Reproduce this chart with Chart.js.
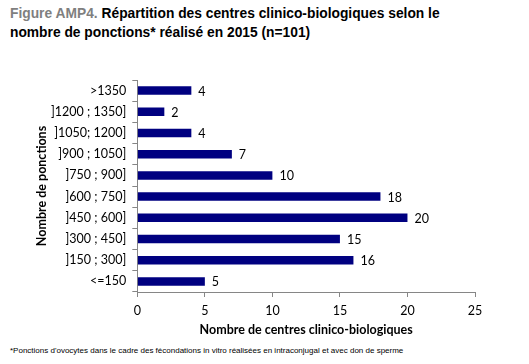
<!DOCTYPE html>
<html>
<head>
<meta charset="utf-8">
<script src="https://cdn.jsdelivr.net/npm/chart.js@4"></script>
<style>
  html, body { margin: 0; padding: 0; background: #fff; }
  #wrap { position: relative; width: 529px; height: 364px; overflow: hidden; }
  #title {
    position: absolute; left: 10px; top: 4px; width: 520px;
    font: bold 13.8px "Liberation Sans", Arial, sans-serif; line-height: 19px; color: #000;
  }
  #title .fig { color: #7f7f7f; }
  #note {
    position: absolute; left: 10px; top: 346px;
    font: 8px "Liberation Sans", Arial, sans-serif; color: #000;
  }
  #box { position: absolute; left: 0; top: 50px; width: 529px; height: 289px; }
</style>
</head>
<body>
<div id="wrap">
  <div id="title"><span class="fig">Figure AMP4.</span> Répartition des centres clinico-biologiques selon le<br>nombre de ponctions* réalisé en 2015 (n=101)</div>
  <div id="box"><canvas id="chart" width="529" height="289"></canvas></div>
  <div id="note">*Ponctions d'ovocytes dans le cadre des fécondations in vitro réalisées en intraconjugal et avec don de sperme</div>
</div>
<script>
// categories, top to bottom
const categories = ['>1350', ']1200 ; 1350]', ']1050; 1200]', ']900 ; 1050]', ']750 ; 900]',
  ']600 ; 750]', ']450 ; 600]', ']300 ; 450]', ']150 ; 300]', '<=150']
const centres = [4, 2, 4, 7, 10, 18, 20, 15, 16, 5]
const xTicks = [0, 5, 10, 15, 20, 25]

const AXIS_FONT = 'Lato, "Open Sans", sans-serif'

// value labels at the end of each bar
const valueLabels = {
  id: 'valueLabels',
  afterDatasetsDraw(chart) {
    const ctx = chart.ctx
    const meta = chart.getDatasetMeta(0)
    ctx.save()
    ctx.font = '12.5px ' + AXIS_FONT
    ctx.fillStyle = '#000'
    ctx.textBaseline = 'middle'
    ctx.textAlign = 'left'
    meta.data.forEach((bar, i) => {
      ctx.fillText(String(centres[i]), bar.x + 7, bar.y + 1)
    })
    ctx.restore()
  }
}

new Chart(document.getElementById('chart'), {
  type: 'bar',
  data: {
    labels: categories,
    datasets: [{
      data: centres,
      backgroundColor: '#000080',
      barPercentage: 0.4,
      categoryPercentage: 1
    }]
  },
  options: {
    indexAxis: 'y',
    responsive: false,
    animation: false,
    layout: { padding: { top: 30, right: 54, bottom: 2, left: 30 } },
    plugins: { legend: { display: false }, tooltip: { enabled: false } },
    scales: {
      x: {
        min: 0, max: 25,
        afterBuildTicks: (axis) => { axis.ticks = xTicks.map(v => ({ value: v })) },
        grid: { drawOnChartArea: false, drawTicks: true, tickLength: 5, color: '#868686' },
        border: { color: '#868686' },
        ticks: { color: '#000', font: { family: AXIS_FONT, size: 12.5 }, padding: 6 },
        title: {
          display: true, text: 'Nombre de centres clinico-biologiques', color: '#000',
          font: { family: AXIS_FONT, size: 12.5, weight: 'bold' }, padding: { top: -2, bottom: 0 }
        }
      },
      y: {
        grid: { drawOnChartArea: false, drawTicks: true, tickLength: 5, color: '#868686', offset: true },
        border: { color: '#868686' },
        ticks: { color: '#000', font: { family: AXIS_FONT, size: 12.5 }, padding: 6 },
        title: {
          display: true, text: 'Nombre de ponctions', color: '#000',
          font: { family: AXIS_FONT, size: 12.5, weight: 'bold' }, padding: { top: 4, bottom: -4 }
        }
      }
    }
  },
  plugins: [valueLabels]
})
</script>
</body>
</html>
